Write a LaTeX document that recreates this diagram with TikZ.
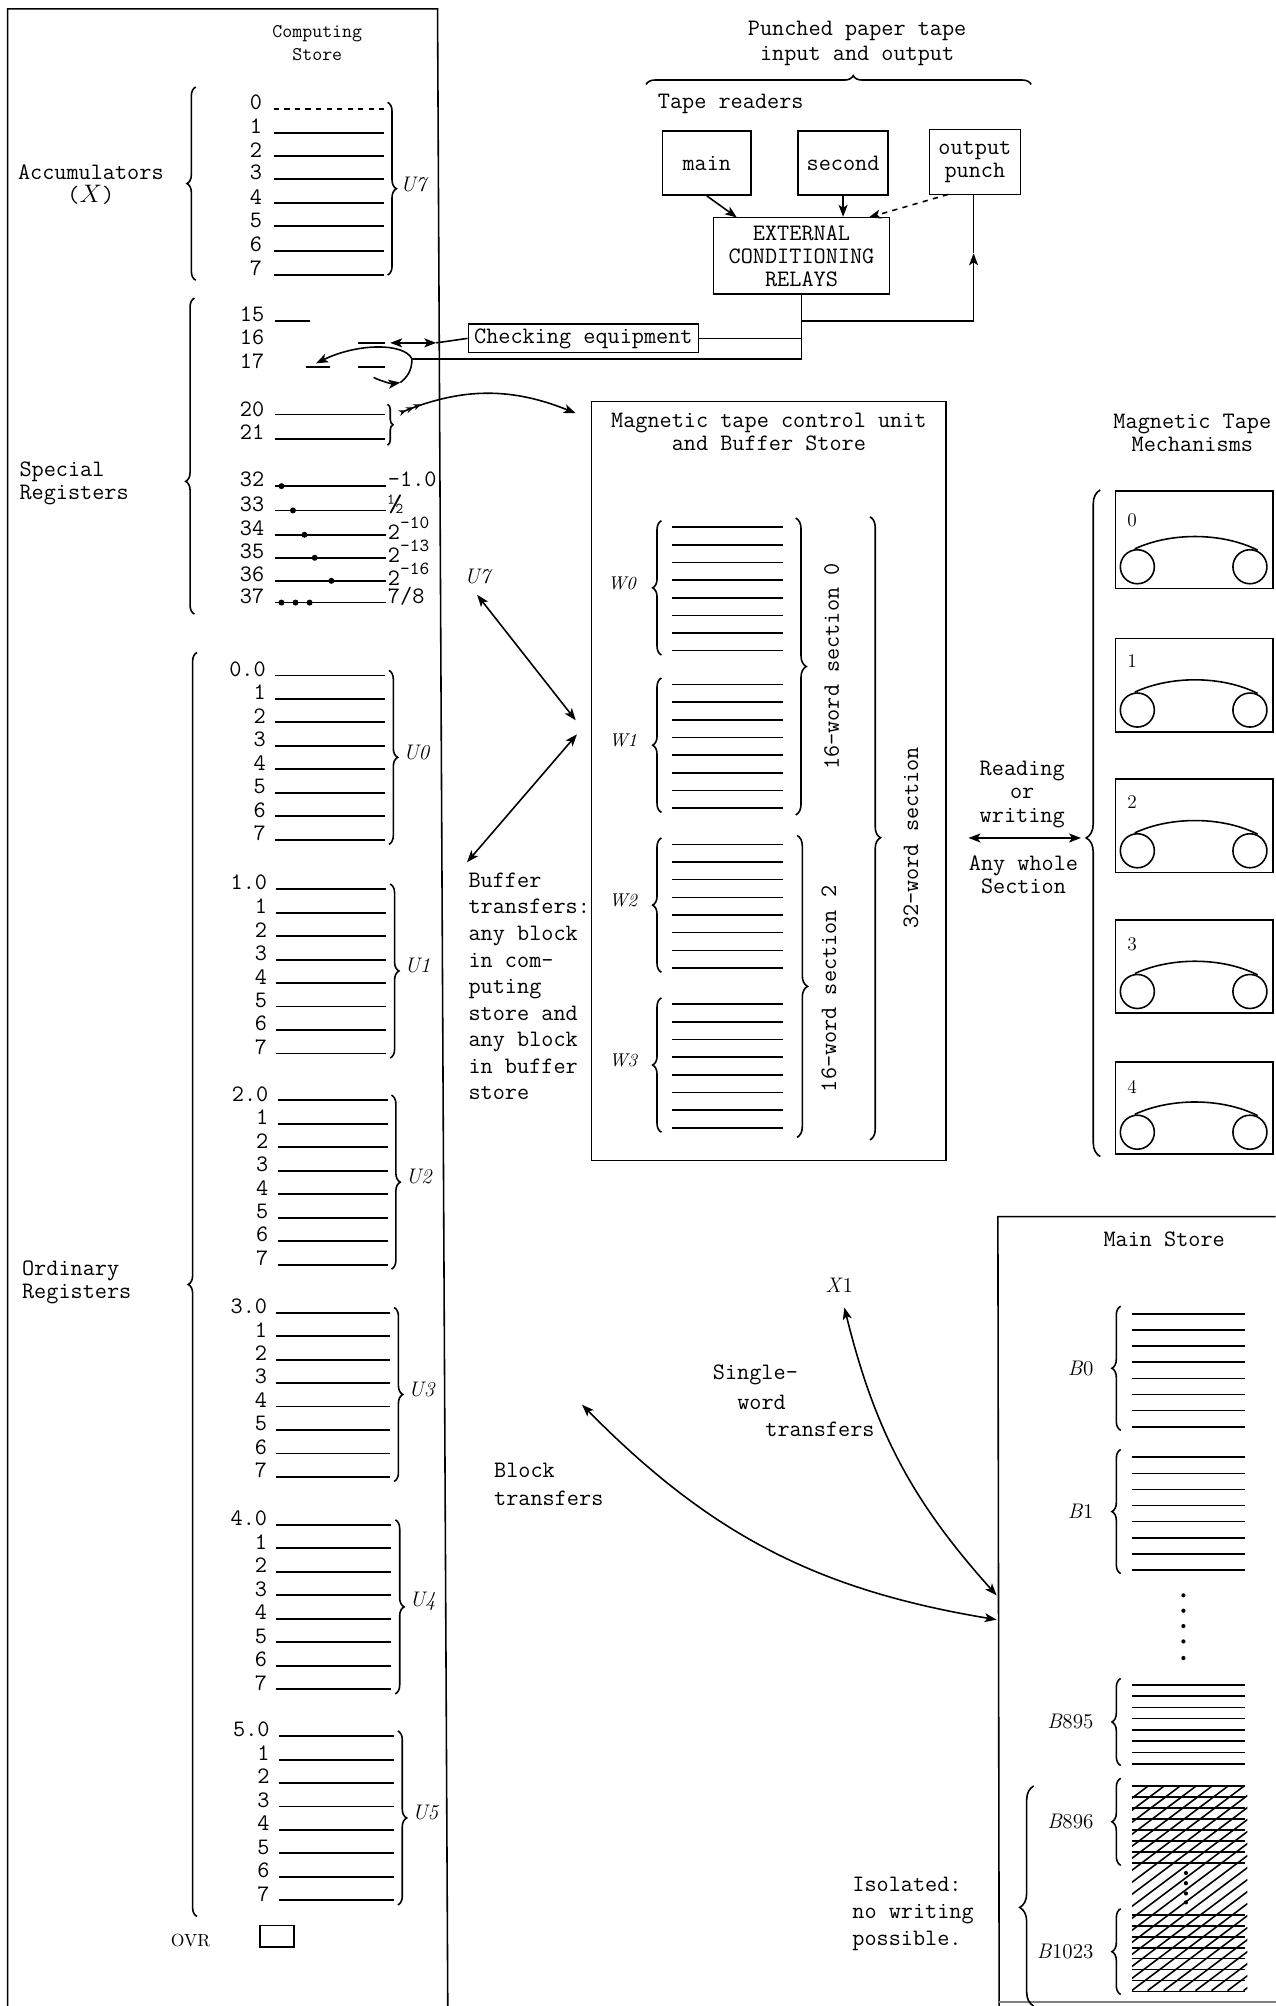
\documentclass[tikz,border=0pt]{standalone}
\usepackage{amsmath}
\usetikzlibrary{arrows.meta,calc,decorations.pathreplacing}
\newcommand{\supnum}[1]{\raisebox{1.05ex}{\fontsize{10.5}{10}\selectfont #1}}

\begin{document}
\begin{tikzpicture}[
  x=0.025577cm, y=-0.025577cm,
  txt/.style={font=\fontsize{13.4}{13.1}\selectfont\ttfamily, inner sep=0pt, align=center},
  para/.style={font=\fontsize{13.4}{15.1}\selectfont\ttfamily, inner sep=0pt, align=left, anchor=west},
  ital/.style={font=\fontsize{12}{14}\selectfont\rmfamily\itshape, inner sep=0pt},
  box/.style={draw, line width=0.9pt, inner sep=0pt, txt},
  reg/.style={line width=1.1pt},
  wire/.style={line width=0.9pt},
  arr/.style={-{Stealth[length=2.4mm,inset=0.6mm]}, line width=0.9pt},
  dbl/.style={{Stealth[length=2.4mm,inset=0.6mm]}-{Stealth[length=2.4mm,inset=0.6mm]}, line width=0.9pt},
  brc/.style={decorate, line width=0.9pt, decoration={brace, amplitude=5pt, aspect=#1}},
  brc/.default=0.5,
  bigbrc/.style={decorate, line width=0.9pt, decoration={brace, amplitude=8pt, aspect=#1}}
]
  \useasboundingbox (0,0) rectangle (997,1568);

  \draw[wire] (6,1568) -- (6,7) -- (342,7) -- (350,1568);
  \node[txt, font=\fontsize{11}{13.1}\selectfont\ttfamily] (storetitle) at (248,34) {Computing\\Store};

  \node[txt] (accum) at (71,144.5) {Accumulators\\($X$)};
  \draw[brc] (153,219) -- (153,68);
  \node[txt, anchor=east] (n0) at (205,80) {0};
  \draw[reg, dashed] (214,85) -- (300,85);
  \foreach \i/\yy in {1/104,2/122,3/140,4/159,5/177,6/196,7/215} {
    \node[txt, anchor=east] (n\i) at (205,\yy-5) {\i};
    \draw[reg] (214,\yy) -- (300,\yy);
  }
  \draw[brc] (303,80) -- (303,215);
  \node[ital] (u7a) at (323,144) {U7};

  \node[txt, align=left, anchor=west] (special) at (15,378) {Special\\Registers};
  \draw[brc=0.42] (152,480) -- (152,233);
  \node[txt] (s15) at (197,246) {15};
  \node[txt] (s16) at (197,264) {16};
  \node[txt] (s17) at (197,282) {17};
  \draw[reg] (215,251) -- (242,251);
  \draw[reg] (280,268) -- (301,268);
  \draw[reg] (239,287) -- (258,287);
  \draw[reg] (280,287) -- (301,287);
  \node[txt] (s20) at (197,320) {20};
  \node[txt] (s21) at (197,338) {21};
  \draw[reg] (215,324) -- (301,324);
  \draw[reg] (215,343) -- (301,343);
  \draw[wire, decorate, decoration={brace, amplitude=3pt}] (303,316) -- (303,348);
  \foreach \n/\yy/\lab in {32/380/{-1.0}, 33/399/{\fontsize{17}{17}\selectfont ½}, 34/418/{2\supnum{-10}}, 35/436/{2\supnum{-13}}, 36/454/{2\supnum{-16}}, 37/471/{7/8}} {
    \node[txt] (s\n) at (197,\yy-5) {\n};
    \draw[wire] (215,\yy) -- (302,\yy);
    \node[txt, anchor=west] (c\n) at (303,\yy-5) {\lab};
  }
  \foreach \x/\yy in {220/380,229/399,238/418,246/436,259/454,220/471,231/471,242/471}
    \fill (\x,\yy) circle (1.7pt);

  \node[txt, align=left, anchor=west] (ordinary) at (17,1002) {Ordinary\\Registers};
  \draw[brc] (154,1498) -- (154,510);
  \foreach \g/\xa/\xb/\yy in {0/215/301/528, 1/216/302/695, 2/217/303/860, 3/216/305/1026, 4/216/306/1192, 5/218/308/1357} {
    \node[txt, anchor=east] (z\g) at (\xa-7,\yy-5) {\g.0};
    \draw[reg] (\xa,\yy) -- (\xb,\yy);
    \foreach \i in {1,...,7} {
      \node[txt, anchor=east] (r\g\i) at (\xa-7,\yy-5+\i*18.35) {\i};
      \draw[reg] (\xa,\yy+\i*18.35) -- (\xb,\yy+\i*18.35);
    }
    \draw[brc] (\xb+3,\yy-4) -- (\xb+3,\yy+132);
    \node[ital, anchor=west] (u\g) at (\xb+14,\yy+60) {U\g};
  }
  \node[font=\fontsize{10}{12}\selectfont\rmfamily, inner sep=0pt] (ovr) at (149,1517) {OVR};
  \node[draw, line width=0.9pt, minimum width=0.69cm, minimum height=0.43cm] (ovrbox) at (216.5,1513.5) {};

  \node[txt] (papertape) at (670,34) {Punched paper tape\\[1.5pt]input and output};
  \draw[brc=0.538] (505,66) -- (806,66);
  \node[txt, anchor=west] (readers) at (514,81) {Tape readers};
  \node[box, minimum width=1.77cm, minimum height=1.28cm] (main) at (552.5,127.5) {main};
  \node[box, minimum width=1.8cm, minimum height=1.28cm] (second) at (659,127.5) {second};
  \node[box, minimum width=1.82cm, minimum height=1.3cm] (punch) at (762,126.5) {output\\punch};
  \node[box, minimum width=3.52cm, minimum height=1.53cm] (relays) at (626.5,200) {EXTERNAL\\CONDITIONING\\RELAYS};
  \node[box, minimum width=4.6cm, minimum height=0.57cm] (check) at (456,264.5) {Checking equipment};

  \coordinate (mainin) at (576,170);
  \coordinate (dashin) at (679,170);
  \coordinate (dashout) at (741,152);
  \coordinate (jtop) at (626.5,251);
  \coordinate (jcheck) at (626.5,264.5);
  \coordinate (jlow) at (626.5,280.5);
  \coordinate (punchmid) at (761,198);
  \coordinate (punchout) at (761,152);
  \coordinate (s16free) at (305,268);
  \coordinate (s16mid) at (341,268);
  \coordinate (bend17) at (322,280.5);
  \coordinate (s17a) at (247,284);
  \coordinate (s17b) at (313,299);
  \coordinate (s17c) at (292,295);
  \coordinate (brfree) at (312,323);
  \coordinate (tcuin) at (450,323);

  \draw[arr] (main.south) -- (mainin);
  \draw[arr] (second.south) -- (second |- relays.north);
  \draw[arr, dashed] (dashout) -- (dashin);
  \draw[wire] (relays.south) -- (jlow) -- (bend17);
  \draw[arr] (jtop) -| (punchmid);
  \draw[wire] (punchmid) -- (punchout);
  \draw[wire] (check.east) -- (jcheck);
  \draw[wire] (check.west) -- (s16mid);
  \draw[dbl] (s16free) -- (s16mid);
  \draw[arr] (bend17) .. controls (316,268) and (280,268) .. (s17a);
  \draw[wire] (bend17) .. controls (322,290) and (318,295) .. (s17b);
  \draw[arr] (s17c) .. controls (298,298) and (306,300) .. (s17b);
  \draw[{Stealth[length=1.6mm,reversed]Stealth[length=1.6mm,reversed]Stealth[length=1.6mm,reversed]}-{Stealth[length=2.4mm,inset=0.6mm]}, line width=0.9pt] (brfree) to[bend left=22] (tcuin);

  \node[draw, line width=0.9pt, minimum width=7.09cm, minimum height=15.17cm] (tcu) at (601,610.5) {};
  \node[txt] (tcutitle) at (601,338) {Magnetic tape control unit\\and Buffer Store};
  \foreach \g/\yy/\lx in {0/412/486, 1/535/487, 2/660/487, 3/785/487} {
    \node[ital, font=\fontsize{10.5}{12}\selectfont\rmfamily\itshape] (wl\g) at (\lx,\yy+44) {W\g};
    \draw[brc] (517,\yy+100) -- (517,\yy-5);
    \foreach \i in {0,...,7}
      \draw[wire] (525,\yy+\i*13.8) -- (612,\yy+\i*13.8);
  }
  \draw[decorate, line width=0.9pt, decoration={brace, amplitude=6pt}] (622,405) -- (622,637);
  \draw[decorate, line width=0.9pt, decoration={brace, amplitude=6pt}] (623,653) -- (623,889);
  \draw[decorate, line width=0.9pt, decoration={brace, amplitude=6pt, aspect=0.515}] (680,404) -- (680,891);
  \node[txt, rotate=90] (sec0) at (650,521) {16-word section 0};
  \node[txt, rotate=90] (sec2) at (648,773) {16-word section 2};
  \node[txt, rotate=90] (sec32) at (712,655) {32-word section};

  \node[ital] (u7b) at (373,451) {U7};
  \coordinate (u7free) at (373,465);
  \coordinate (tcuup) at (450,563);
  \coordinate (tculow) at (451,574);
  \coordinate (bufffree) at (365,674);
  \draw[dbl] (u7free) -- (tcuup);
  \draw[dbl] (tculow) -- (bufffree);
  \node[para] (bufftext) at (366,771) {Buffer\\transfers:\\any block\\in com-\\puting\\store and\\any block\\in buffer\\store};

  \node[txt] (rw) at (799,621) {Reading\\or\\writing};
  \node[txt] (whole) at (800,684) {Any whole\\Section};
  \coordinate (rwa) at (757,655);
  \coordinate (rwb) at (845,655);
  \draw[dbl] (rwa) -- (rwb);

  \node[txt] (mechtitle) at (932,338) {Magnetic Tape\\Mechanisms};
  \draw[bigbrc=0.478] (860,904) -- (860,383);
  \foreach \n/\ya/\yb/\ly in {0/384/460/407, 1/499/572/517, 2/609/682/627, 3/719/792/738, 4/830/902/850} {
    \draw[wire] (872,\ya) rectangle (995,\yb);
    \node[font=\fontsize{11}{12}\selectfont\rmfamily, inner sep=0pt] (tape\n) at (885,\ly) {\n};
    \draw[wire] (889,\yb-17) circle (0.34cm);
    \draw[wire] (977,\yb-17) circle (0.34cm);
    \draw[wire] (887,\yb-31) .. controls (915,\yb-44) and (955,\yb-44) .. (983,\yb-30);
  }

  \draw[wire] (997,951) -- (780,951) -- (781,1568);
  \draw[wire, gray] (781,1565) -- (997,1565);
  \node[txt] (storemain) at (910,969) {Main Store};
  \foreach \nm/\yy/\st/\ya/\yb in {0/1027/12.6/1021/1118, 1/1139/12.6/1133/1230, 895/1317/8.8/1312/1380, 896/1396/8.6/1390/1458, 1023/1497/8.5/1492/1559} {
    \node[ital, anchor=east] (lb\nm) at (855,{(\ya+\yb)/2}) {B\textup{\nm}};
    \draw[brc] (876,\yb) -- (876,\ya);
    \foreach \i in {0,...,7}
      \draw[wire] (885,\yy+\i*\st) -- (973,\yy+\i*\st);
  }
  \foreach \yy in {1247,1259,1271,1283,1296}
    \fill (925,\yy) circle (1.2pt);
  \begin{scope}
    \clip (885,1396) rectangle (975,1556);
    \foreach \i in {0,...,24}
      \draw[wire] (672+\i*12.5,1556) -- (672+\i*12.5+213,1396);
  \end{scope}
  \foreach \yy in {1464,1472,1480,1487}
    \fill (927,\yy) circle (1.2pt);
  \draw[bigbrc=0.448] (808,1568) -- (808,1396);

  \node[ital] (x1) at (656,1005) {X\textup{1}};
  \coordinate (x1free) at (660,1022);
  \coordinate (singleend) at (779,1247);
  \coordinate (blockfree) at (455,1098);
  \coordinate (blockend) at (779,1266);
  \draw[dbl] (x1free) to[bend right=14] (singleend);
  \draw[dbl] (blockfree) to[bend right=18] (blockend);
  \node[para] (single1) at (557,1075) {Single-};
  \node[para] (single2) at (576,1096) {word};
  \node[para] (single3) at (598,1117) {transfers};
  \node[para, font=\fontsize{13.4}{16}\selectfont\ttfamily] (block) at (386,1160) {Block\\transfers};
  \node[para] (isolated) at (666,1496) {Isolated:\\no writing\\possible.};
\end{tikzpicture}
\end{document}
